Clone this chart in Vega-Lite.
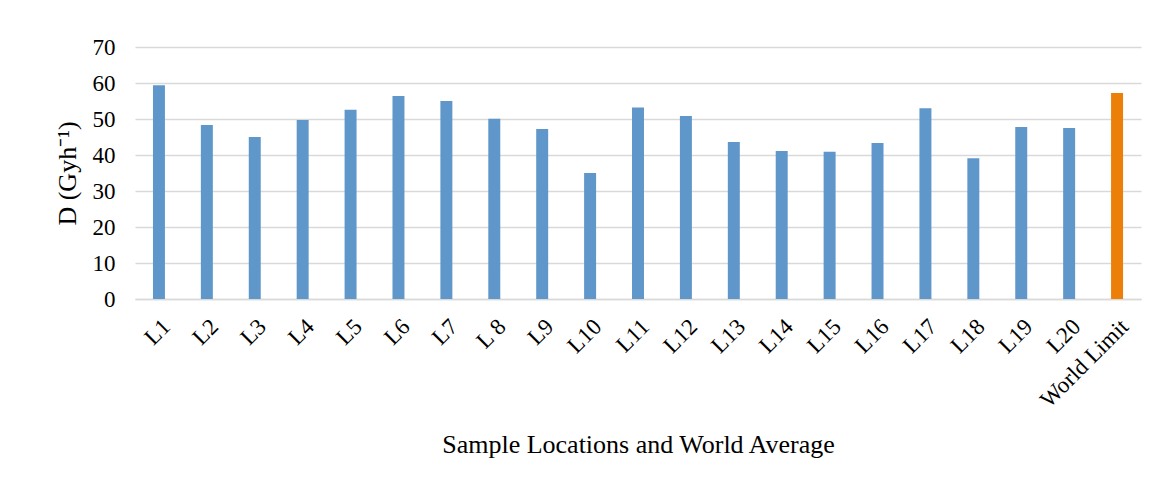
{
  "$schema": "https://vega.github.io/schema/vega-lite/v6.json",
  "autosize": "none",
  "width": 1006,
  "height": 252,
  "padding": {"left": 135, "top": 47, "right": 21, "bottom": 192},
  "background": "white",
  "data": {"values": [
    {"loc": "L1", "D": 59.4, "kind": "s"},
    {"loc": "L2", "D": 48.3, "kind": "s"},
    {"loc": "L3", "D": 45.0, "kind": "s"},
    {"loc": "L4", "D": 49.7, "kind": "s"},
    {"loc": "L5", "D": 52.6, "kind": "s"},
    {"loc": "L6", "D": 56.4, "kind": "s"},
    {"loc": "L7", "D": 55.0, "kind": "s"},
    {"loc": "L 8", "D": 50.1, "kind": "s"},
    {"loc": "L9", "D": 47.2, "kind": "s"},
    {"loc": "L10", "D": 35.0, "kind": "s"},
    {"loc": "L11", "D": 53.2, "kind": "s"},
    {"loc": "L12", "D": 50.8, "kind": "s"},
    {"loc": "L13", "D": 43.6, "kind": "s"},
    {"loc": "L14", "D": 41.1, "kind": "s"},
    {"loc": "L15", "D": 40.9, "kind": "s"},
    {"loc": "L16", "D": 43.3, "kind": "s"},
    {"loc": "L17", "D": 53.0, "kind": "s"},
    {"loc": "L18", "D": 39.1, "kind": "s"},
    {"loc": "L19", "D": 47.8, "kind": "s"},
    {"loc": "L20", "D": 47.5, "kind": "s"},
    {"loc": "World Limit", "D": 57.2, "kind": "w"}
  ]},
  "mark": {"type": "bar"},
  "encoding": {
    "x": {
      "field": "loc", "type": "nominal", "sort": null,
      "scale": {"paddingInner": 0.75, "paddingOuter": 0.375},
      "axis": {
        "title": "Sample Locations and World Average",
        "labelAngle": -45, "labelFont": "Liberation Serif", "labelFontSize": 23,
        "labelColor": "#000", "ticks": false, "labelPadding": 16,
        "domainColor": "#D9D9D9", "domainWidth": 1.5,
        "titleFont": "Liberation Serif", "titleFontSize": 26, "titleFontWeight": "normal",
        "titleColor": "#000", "titlePadding": 20
      }
    },
    "y": {
      "field": "D", "type": "quantitative",
      "scale": {"domain": [0, 70]},
      "axis": {
        "title": "D (Gyh⁻¹)", "values": [0,10,20,30,40,50,60,70],
        "labelFont": "Liberation Serif", "labelFontSize": 23, "labelColor": "#000",
        "ticks": false, "domain": false, "labelPadding": 20,
        "gridColor": "#D9D9D9", "gridWidth": 1.5,
        "titleFont": "Liberation Serif", "titleFontSize": 26, "titleFontWeight": "normal",
        "titleColor": "#000", "titlePadding": 12
      }
    },
    "color": {
      "field": "kind", "type": "nominal",
      "scale": {"domain": ["s", "w"], "range": ["#5F97CB", "#EB7F07"]},
      "legend": null
    }
  },
  "config": {"view": {"stroke": null}}
}
